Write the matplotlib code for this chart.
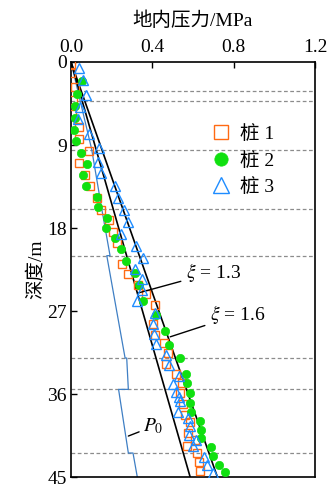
import matplotlib
matplotlib.use("Agg")
import matplotlib.pyplot as plt

plt.rcParams['font.family'] = ['Liberation Serif', 'Noto Sans CJK SC']
plt.rcParams['mathtext.fontset'] = 'stix'
plt.rcParams['font.size'] = 14

# ---- data ----
p1_depth = [0.2, 1.2, 2.7, 4.1, 5.6, 7.0, 8.3, 9.7, 11.0, 12.3, 13.4, 14.8, 16.1, 17.1, 18.4, 19.6,
            21.9, 23.0, 24.2, 25.2, 26.4, 28.4, 29.6, 30.5, 31.6, 32.7, 33.8, 34.8, 35.9, 37.1,
            38.3, 39.0, 40.2, 41.0, 41.6, 42.4, 43.4, 44.3]
p1_press = [0.0, 0.0, 0.02, 0.008, 0.004, 0.04, 0.04, 0.09, 0.041, 0.069, 0.094, 0.13, 0.146, 0.187, 0.208, 0.228,
            0.25, 0.279, 0.329, 0.368, 0.414, 0.405, 0.414, 0.455, 0.479, 0.468, 0.516, 0.548, 0.537, 0.55,
            0.562, 0.585, 0.575, 0.61, 0.57, 0.62, 0.628, 0.635]

p2_depth = [2.1, 3.5, 4.8, 6.1, 7.4, 8.6, 9.9, 11.1, 12.3, 13.4, 14.6, 15.7, 16.9, 18.0, 19.1,
            20.3, 21.6, 22.9, 24.2, 25.9, 27.4, 29.2, 30.7, 32.1, 33.8, 34.8, 35.9, 37.0, 37.9, 38.9,
            39.9, 40.8, 41.7, 42.7, 43.7, 44.5]
p2_press = [0.053, 0.031, 0.021, 0.02, 0.015, 0.025, 0.049, 0.08, 0.061, 0.074, 0.127, 0.132, 0.179, 0.172, 0.217,
            0.246, 0.271, 0.315, 0.336, 0.352, 0.419, 0.463, 0.483, 0.537, 0.565, 0.57, 0.585, 0.585, 0.59, 0.635,
            0.64, 0.64, 0.69, 0.70, 0.73, 0.755]

p3_depth = [0.6, 2.0, 3.6, 4.9, 6.2, 7.8, 9.3, 10.8, 12.0, 13.4, 14.7, 16.1, 17.3, 18.7, 20.0,
            21.2, 22.4, 23.5, 24.7, 25.9, 27.2, 28.4, 29.5, 30.6, 31.8, 32.9, 34.0, 34.9, 35.8, 36.3, 36.8,
            38.0, 38.6, 39.5, 40.4, 41.0, 41.6, 42.8, 43.7, 44.6]
p3_press = [0.039, 0.061, 0.074, 0.044, 0.036, 0.09, 0.138, 0.134, 0.148, 0.217, 0.233, 0.263, 0.279, 0.245, 0.32,
            0.356, 0.317, 0.348, 0.348, 0.324, 0.414, 0.405, 0.409, 0.42, 0.468, 0.48, 0.532, 0.50, 0.517, 0.529, 0.537,
            0.524, 0.575, 0.583, 0.578, 0.616, 0.60, 0.655, 0.668, 0.70]

p0_depth = [0, 9.5, 15.9, 21.0, 21.0, 32.1, 32.1, 35.5, 35.5, 42.4, 42.4, 45]
p0_press = [0, 0.102, 0.151, 0.192, 0.176, 0.266, 0.274, 0.282, 0.234, 0.282, 0.305, 0.326]

xi13_depth = [0, 45]
xi13_press = [0, 0.586]
xi16_depth = [0, 45]
xi16_press = [0, 0.72]

layer_depths = [3.1, 4.2, 9.5, 15.9, 21.0, 32.1, 35.5, 42.4]

x_ticks = [0.0, 0.4, 0.8, 1.2]
x_ticklabels = ['0.0', '0.4', '0.8', '1.2']
y_ticks = [0, 9, 18, 27, 36, 45]
labels = ['桩 1', '桩 2', '桩 3']

# ---- figure ----
fig = plt.figure(figsize=(3.28, 4.84), dpi=100)
ax = fig.add_axes([71/328, 1-477/484, (315-71)/328, (477-62)/484])

for d in layer_depths:
    ax.axhline(d, color='#8c8c8c', lw=0.9, ls=(0, (3, 2)), zorder=1)

ax.plot(p0_press, p0_depth, color='#3f7fc4', lw=0.9, zorder=2)
ax.plot(xi13_press, xi13_depth, color='black', lw=1.2, zorder=2)
ax.plot(xi16_press, xi16_depth, color='black', lw=1.2, zorder=2)

ms = 6.0
ax.plot(p1_press, p1_depth, ls='none', marker='s', ms=ms, mfc='none', mec='#ff6a13', mew=1.0,
        label=labels[0], zorder=3)
ax.plot(p2_press, p2_depth, ls='none', marker='o', ms=ms, mfc='#10e010', mec='#10e010', mew=0.5,
        label=labels[1], zorder=3)
ax.plot(p3_press, p3_depth, ls='none', marker='^', ms=ms+0.8, mfc='none', mec='#1e8cff', mew=1.0,
        label=labels[2], zorder=4)

ax.set_xlim(0, 1.2)
ax.set_ylim(45, 0)
ax.xaxis.tick_top()
ax.xaxis.set_label_position('top')
ax.set_xticks(x_ticks)
ax.set_xticklabels(x_ticklabels)
ax.set_yticks(y_ticks)
ax.tick_params(direction='in', length=4, width=1, labelsize=14, pad=3)
ax.tick_params(axis='x', pad=4)
for s in ax.spines.values():
    s.set_linewidth(1.2)

ax.set_xlabel('地内压力/MPa', fontsize=14, labelpad=10)
ax.set_ylabel('深度/m', fontsize=14, labelpad=2)

leg = ax.legend(loc='upper left', bbox_to_anchor=(0.535, 0.872), frameon=False, markerscale=1.6,
                handlelength=1.0, handletextpad=0.5, labelspacing=0.45, borderpad=0, fontsize=14)

# annotations
ax.annotate('$\\xi$ = 1.3', xy=(0.33, 25.05), xytext=(0.567, 22.8), fontsize=14,
            va='center', ha='left',
            arrowprops=dict(arrowstyle='-', color='black', lw=1.0, shrinkA=2, shrinkB=0))
ax.annotate('$\\xi$ = 1.6', xy=(0.488, 29.8), xytext=(0.685, 27.4), fontsize=14,
            va='center', ha='left',
            arrowprops=dict(arrowstyle='-', color='black', lw=1.0, shrinkA=2, shrinkB=0))
ax.annotate('$P_0$', xy=(0.282, 40.56), xytext=(0.355, 39.5), fontsize=14,
            va='center', ha='left',
            arrowprops=dict(arrowstyle='-', color='black', lw=1.0, shrinkA=1, shrinkB=0))

fig.savefig('out.png', dpi=100)
